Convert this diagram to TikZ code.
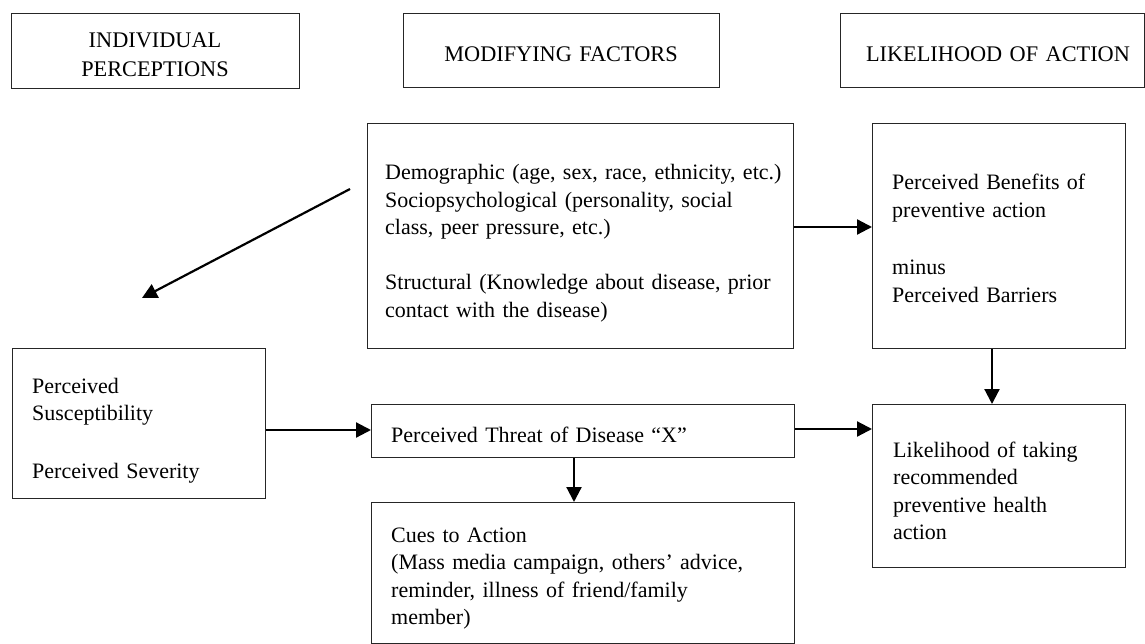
\documentclass[tikz,border=0pt]{standalone}
\usepackage{fontspec}
\setmainfont[WordSpace=0.85]{Liberation Serif}
\usetikzlibrary{arrows.meta}
\begin{document}
\begin{tikzpicture}[x=1pt,y=-1pt,
  box/.style={draw=black!85,line width=1.1pt,anchor=north west,inner sep=0pt},
  txt/.style={anchor=base west,inner sep=0pt,align=left,text width=420pt,
    font=\fontsize{22}{27.5}\selectfont},
  head/.style={anchor=base,inner sep=0pt,align=center,text width=300pt,
    font=\fontsize{22.3}{29}\selectfont},
  arr/.style={line width=2.2pt,-{Triangle[length=15pt,width=15pt]}}]
\useasboundingbox (0,0) rectangle (1145,644);
% header boxes
\node[box,minimum width=288pt,minimum height=75pt] (h1) at (11,13) {};
\node[box,minimum width=316pt,minimum height=74pt] (h2) at (403,13) {};
\node[box,minimum width=304pt,minimum height=74pt] (h3) at (840,13) {};
\node[head] (t1) at (155,48) {INDIVIDUAL\\PERCEPTIONS};
\node[head] (t2) at (561,62) {MODIFYING FACTORS};
\node[head] (t3) at (998,62) {LIKELIHOOD OF ACTION};
% main boxes
\node[box,minimum width=426pt,minimum height=225pt] (demo) at (367,123) {};
\node[box,minimum width=253pt,minimum height=225pt] (ben) at (872,123) {};
\node[box,minimum width=253pt,minimum height=150pt] (sus) at (12,348) {};
\node[box,minimum width=423pt,minimum height=53pt] (thr) at (371,404) {};
\node[box,minimum width=423pt,minimum height=141pt] (cues) at (371,502) {};
\node[box,minimum width=253pt,minimum height=163pt] (lik) at (872,404) {};
% texts
\node[txt] (tdemo) at (385,180) {Demographic (age, sex, race, ethnicity, etc.)\\
Sociopsychological (personality, social\\
class, peer pressure, etc.)\\[27.5pt]
Structural (Knowledge about disease, prior\\
contact with the disease)};
\node[txt] (tben) at (892,190) {Perceived Benefits of\\
preventive action\\[30pt]
minus\\
Perceived Barriers};
\node[txt] (tsus) at (32,393) {Perceived\\
Susceptibility\\[30pt]
Perceived Severity};
\node[txt] (tthr) at (391,442) {Perceived Threat of Disease “X”};
\node[txt] (tlik) at (893,457) {Likelihood of taking\\
recommended\\
preventive health\\
action};
\node[txt] (tcues) at (391,542) {Cues to Action\\
(Mass media campaign, others’ advice,\\
reminder, illness of friend/family\\
member)};
% connectors
\coordinate (dstart) at (350,189);
\coordinate (dend) at (142,298);
\draw[arr] (dstart) -- (dend);
\draw[arr] (demo.east |- 0,227) -- (ben.west |- 0,227);
\draw[arr] (sus.east |- 0,430) -- (thr.west |- 0,430);
\draw[arr] (thr.east |- 0,429) -- (lik.west |- 0,429);
\draw[arr] (thr.south -| 574,0) -- (cues.north -| 574,0);
\draw[arr] (ben.south -| 992,0) -- (lik.north -| 992,0);
\end{tikzpicture}
\end{document}
